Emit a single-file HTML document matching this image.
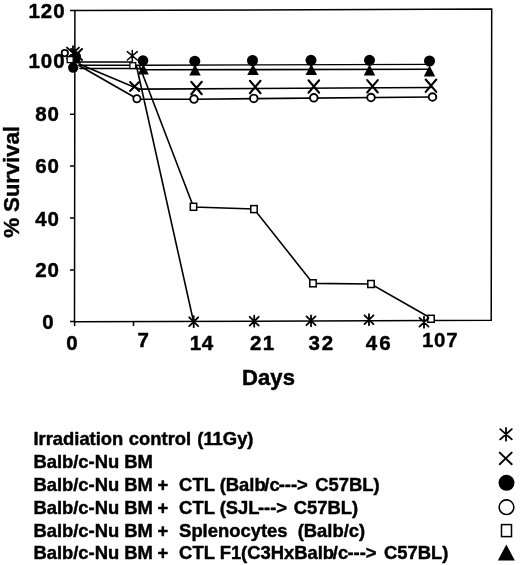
<!DOCTYPE html>
<html>
<head>
<meta charset="utf-8">
<title>Survival chart</title>
<style>
html,body{margin:0;padding:0;background:#fff;}
body{width:520px;height:565px;overflow:hidden;}
svg{display:block;}
text{white-space:pre;font-family:"Liberation Sans",sans-serif;font-weight:bold;fill:#000;stroke:#000;stroke-width:0.45;stroke-linejoin:round;}
.ax{font-size:20.5px;letter-spacing:0.9px;stroke-width:1.0;}
.xl{letter-spacing:1.3px;}
.lg{font-size:18.4px;stroke-width:0.6;}
.ln{stroke:#000;stroke-width:1.6;fill:none;stroke-linecap:round;}
.mk{stroke:#000;stroke-width:1.6;fill:none;stroke-linecap:round;}
.op{stroke:#000;stroke-width:1.5;fill:#fff;}
.fl{fill:#000;stroke:none;}
</style>
</head>
<body>
<svg width="520" height="565" viewBox="0 0 520 565">
<rect x="0" y="0" width="520" height="565" fill="#fff"/>
<!-- plot frame -->
<g class="ln" style="stroke-width:1.5;stroke-linecap:butt">
<path d="M74.9 10.6 L491.7 9.1 L491.2 320.3 L74.5 321.8 Z"/>
<path d="M70 10.5H75 M70 62.5H75 M70 114.3H75 M70 166H75 M70 218H75 M70 270H75 M70 321.6H75"/>
<path d="M74.6 321.5V326 M133.5 321.5V326"/>
</g>
<!-- y labels -->
<g class="ax" text-anchor="middle" transform="translate(0,-0.5)">
<text x="47" y="18.5">120</text>
<text x="47" y="68.3">100</text>
<text x="47.5" y="121">80</text>
<text x="47.5" y="173.5">60</text>
<text x="47.5" y="226">40</text>
<text x="47.5" y="277.5">20</text>
<text x="48.5" y="329.5">0</text>
</g>
<text class="ax" style="font-size:22.5px;letter-spacing:-0.25px;stroke-width:0.4" text-anchor="middle" transform="translate(19.2,182) rotate(-90)">% Survival</text>
<!-- x labels -->
<g class="ax xl" text-anchor="middle" transform="translate(0,-0.7)">
<text x="72.5" y="350.7">0</text>
<text x="143.8" y="347.5">7</text>
<text x="201.8" y="350.7" style="letter-spacing:0.6px">14</text>
<text x="262.8" y="350.7">21</text>
<text x="321.8" y="350.7" style="letter-spacing:1.8px">32</text>
<text x="379.2" y="350.7" style="letter-spacing:2px">46</text>
<text x="440.2" y="348" style="stroke-width:0.3;letter-spacing:0.8px">107</text>
<text x="268.5" y="385.6" style="font-size:22px;letter-spacing:0.1px;stroke-width:0.5">Days</text>
</g>
<!-- series lines -->
<g class="ln">
<path d="M80 62 H132"/>
<path d="M80 65.2 H143 L430 64.4" style="stroke-width:1.4"/>
<path d="M80 68.5 H138 L143 69.8 L430 69.3"/>
<path d="M79 64 L134.4 87.3 L140 89.1 L431 87.5"/>
<path d="M79 65.5 L134 97 L137 99.3 L194 99.2 L432 97"/>
<path d="M136.5 66 L193.5 321.5"/>
<path d="M139.5 66 L193.5 207 L254 209 L313 283.4 L371 284 L431 318.3"/>
</g>
<!-- markers go here -->
<g id="markers">
<circle class="op" style="stroke-width:1.8" cx="64.8" cy="53.1" r="3.2"/>
<circle class="fl" cx="73.2" cy="67.6" r="5.2"/>
<path class="fl" d="M75.5 48.5L81.25 63.5H69.75Z"/>
<circle class="fl" cx="76" cy="56.5" r="5.0"/>
<path class="mk" style="stroke-width:1.8" d="M73 46.2V59.8 M67 47.56L79 58.44 M79 47.56L67 58.44"/>
<path class="mk" style="stroke-width:2" d="M71.0 49.0L82.0 60.0 M82.0 49.0L71.0 60.0"/>
<rect class="op" style="stroke-width:1.3" x="67.2" y="56.6" width="6" height="6"/>
<path class="mk" style="stroke-width:1.5" d="M132.3 50.599999999999994V61.0 M127.30000000000001 51.64L137.3 59.959999999999994 M137.3 51.64L127.30000000000001 59.959999999999994"/>
<rect class="op" style="stroke-width:1.3" x="129.9" y="62.699999999999996" width="5.8" height="5.8"/>
<path class="fl" d="M143.3 64L148.8 74.6H137.8Z"/>
<circle class="fl" cx="143" cy="60.6" r="5.3"/>
<path class="mk" style="stroke-width:2.0" d="M130.1 82.0L139.1 91.0 M139.1 82.0L130.1 91.0"/>
<circle class="op" style="stroke-width:1.8" cx="136.9" cy="98.7" r="3.6"/>
<path class="fl" d="M195 64.6L200.75 75.6H189.25Z"/>
<circle class="fl" cx="194.8" cy="61.2" r="5.5"/>
<path class="fl" d="M253 64L258.75 75H247.25Z"/>
<circle class="fl" cx="252.5" cy="60.5" r="5.5"/>
<path class="fl" d="M311.3 64L317.05 75H305.55Z"/>
<circle class="fl" cx="311" cy="60.3" r="5.5"/>
<path class="fl" d="M369.5 64.5L375.25 75.5H363.75Z"/>
<circle class="fl" cx="369.5" cy="60.3" r="5.5"/>
<path class="fl" d="M429.5 65.5L435.25 76.5H423.75Z"/>
<circle class="fl" cx="429.5" cy="61" r="5.5"/>
<path class="mk" style="stroke-width:2.1" d="M191.2 81.8L201.8 94.2 M201.8 81.8L191.2 94.2"/>
<path class="mk" style="stroke-width:2.1" d="M249.89999999999998 80.8L260.5 93.2 M260.5 80.8L249.89999999999998 93.2"/>
<path class="mk" style="stroke-width:2.1" d="M308.5 80.3L319.1 92.7 M319.1 80.3L308.5 92.7"/>
<path class="mk" style="stroke-width:2.1" d="M367.2 80.1L377.8 92.5 M377.8 80.1L367.2 92.5"/>
<path class="mk" style="stroke-width:2.1" d="M425.7 79.5L436.3 91.9 M436.3 79.5L425.7 91.9"/>
<circle class="op" style="stroke-width:1.9" cx="194" cy="99.1" r="3.8"/>
<circle class="op" style="stroke-width:1.9" cx="253.8" cy="98.4" r="3.8"/>
<circle class="op" style="stroke-width:1.9" cx="313.8" cy="97.8" r="3.8"/>
<circle class="op" style="stroke-width:1.9" cx="371" cy="97.5" r="3.8"/>
<circle class="op" style="stroke-width:1.9" cx="432.5" cy="97" r="3.8"/>
<rect class="op" style="stroke-width:1.5" x="190.3" y="203.3" width="6.4" height="7.0"/>
<rect class="op" style="stroke-width:1.5" x="250.8" y="205.6" width="6.4" height="7.0"/>
<rect class="op" style="stroke-width:1.5" x="309.8" y="279.8" width="6.4" height="7.0"/>
<rect class="op" style="stroke-width:1.5" x="367.8" y="280.5" width="6.4" height="7.0"/>
<rect class="op" style="stroke-width:1.5" x="427.8" y="315.3" width="6.4" height="7.0"/>
<path class="mk" style="stroke-width:1.8" d="M193.7 316.2V327.2 M189.2 317.3L198.2 326.09999999999997 M198.2 317.3L189.2 326.09999999999997"/>
<path class="mk" style="stroke-width:1.8" d="M254.2 315.7V326.7 M249.7 316.8L258.7 325.59999999999997 M258.7 316.8L249.7 325.59999999999997"/>
<path class="mk" style="stroke-width:1.8" d="M311 315.3V326.3 M306.5 316.40000000000003L315.5 325.2 M315.5 316.40000000000003L306.5 325.2"/>
<path class="mk" style="stroke-width:1.8" d="M369 314.2V325.2 M364.5 315.3L373.5 324.09999999999997 M373.5 315.3L364.5 324.09999999999997"/>
<path class="mk" style="stroke-width:1.8" d="M424 316.7V327.7 M419.5 317.8L428.5 326.59999999999997 M428.5 317.8L419.5 326.59999999999997"/>
<path class="mk" style="stroke-width:1.8" d="M506 427.90000000000003V440.7 M500.2 429.18L511.8 439.42 M511.8 429.18L500.2 439.42"/>
<path class="mk" style="stroke-width:1.9" d="M499.7 452.59999999999997L511.7 464.2 M511.7 452.59999999999997L499.7 464.2"/>
<circle class="fl" cx="506.5" cy="482.8" r="8"/>
<circle class="op" style="stroke-width:1.6" cx="506.5" cy="507.2" r="7.3"/>
<rect class="op" style="stroke-width:1.5" x="501.5" y="524.6" width="10" height="12"/>
<path class="fl" d="M506.3 544.4L514.8 560.5H497.8Z"/>
</g>
<!-- legend -->
<g class="lg" xml:space="preserve" transform="translate(-0.6,-0.3)">
<text x="34" y="445">Irradiation<tspan dx="0.4"> control</tspan><tspan dx="1"> (11Gy)</tspan></text>
<text x="34" y="468.5">Balb/c-Nu BM</text>
<text x="34" y="490.9">Balb/c-Nu BM<tspan dx="-0.5"> +</tspan><tspan dx="0.6">  CTL (Balb</tspan><tspan dx="-1.3">/c</tspan><tspan dx="-1">---&gt;</tspan><tspan dx="2.4"> C57BL)</tspan></text>
<text x="34" y="514.2">Balb/c-Nu BM<tspan dx="-0.5"> +</tspan><tspan dx="0.6">  CTL (SJL</tspan><tspan dx="-1.6">---&gt;</tspan><tspan dx="1.6"> C57BL)</tspan></text>
<text x="34" y="537.2">Balb/c-Nu BM<tspan dx="-0.5"> +</tspan><tspan dx="0.6">  Splenocytes</tspan><tspan dx="0">  (Balb/c)</tspan></text>
<text x="34" y="559.8">Balb/c-Nu BM<tspan dx="-0.5"> +</tspan><tspan dx="0.6">  CTL F1(C3HxBalb</tspan><tspan dx="-1.3">/c</tspan><tspan dx="-0.7">---&gt;</tspan><tspan dx="2.3"> C57BL)</tspan></text>
</g>
</svg>
</body>
</html>
